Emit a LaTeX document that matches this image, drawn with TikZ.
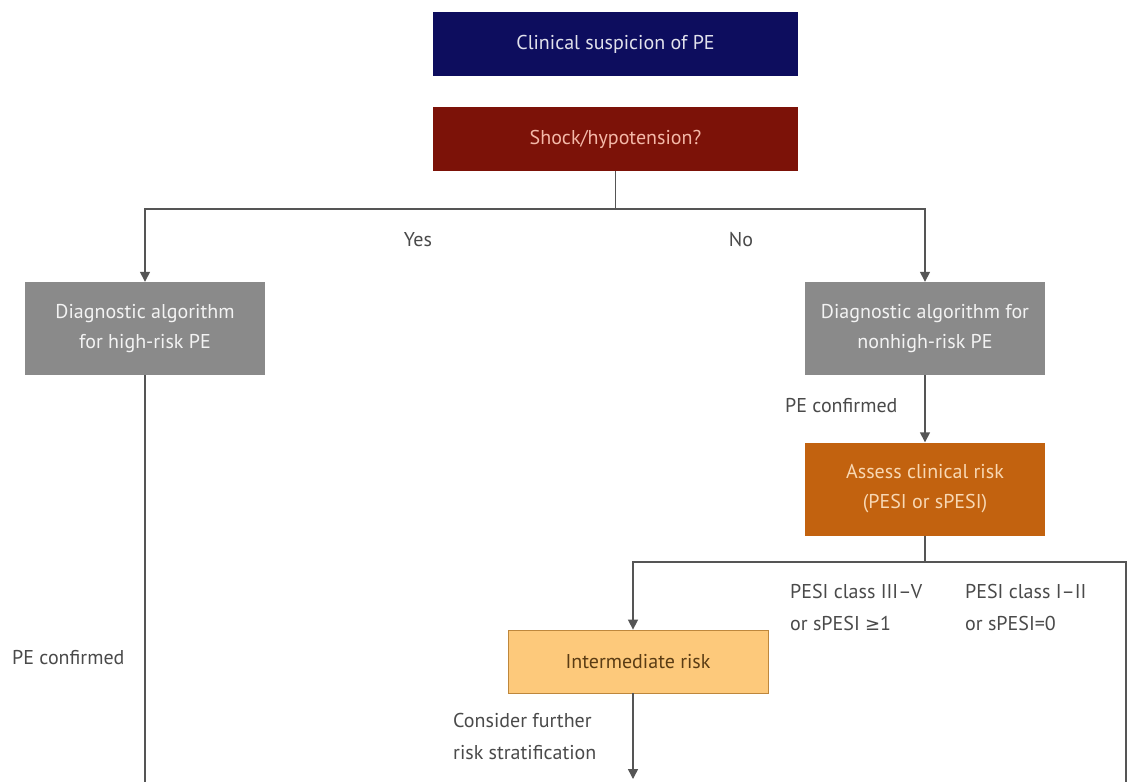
\documentclass[tikz,border=0pt]{standalone}
\usepackage{fontspec}
\setmainfont{PT Sans}
\newfontfamily\symfont{DejaVu Sans}
\usetikzlibrary{arrows.meta}
\definecolor{navy}{HTML}{0D0D5E}
\definecolor{darkred}{HTML}{7C1208}
\definecolor{boxgray}{HTML}{8A8A8A}
\definecolor{rust}{HTML}{C2620F}
\definecolor{lightorange}{HTML}{FDC97B}
\definecolor{linegray}{HTML}{555555}
\definecolor{labelgray}{HTML}{4A4A4A}
\begin{document}
\begin{tikzpicture}[x=1pt,y=-1pt,
  every node/.style={font=\fontsize{20}{30}\selectfont},
  box/.style={minimum width=240pt, minimum height=93pt, inner sep=0pt, align=center},
  widebox/.style={minimum width=365pt, minimum height=64pt, inner sep=0pt, align=center},
  conn/.style={draw=linegray, line width=1.5pt},
  arr/.style={conn, -{Triangle[length=10pt,width=10pt]}},
  lbl/.style={text=labelgray, inner sep=0pt, align=left, font=\fontsize{20}{32}\selectfont}]
\useasboundingbox[fill=white] (0,0) rectangle (1128,782);

% boxes
\node[widebox, fill=navy, text=white!88!navy] (clin) at (615.5,44) {Clinical suspicion of PE};
\node[widebox, fill=darkred, text={rgb,255:red,244;green,184;blue,168}] (shock) at (615.5,139) {Shock/hypotension?};
\node[box, fill=boxgray, text=white!90!boxgray] (high) at (145,328.5) {Diagnostic algorithm\\for high-risk PE};
\node[box, fill=boxgray, text=white!90!boxgray] (nonhigh) at (925,328.5) {Diagnostic algorithm for\\nonhigh-risk PE};
\node[box, fill=rust, text={rgb,255:red,248;green,216;blue,180}] (assess) at (925,489) {Assess clinical risk\\(PESI or sPESI)};
\node[minimum width=260pt, minimum height=63pt, inner sep=0pt, fill=lightorange, draw={rgb,255:red,190;green,135;blue,60}, line width=0.8pt, text={rgb,255:red,90;green,60;blue,20}] (inter) at (638,661.5) {Intermediate risk};

% coordinates
\coordinate (split) at (615.5,209);
\coordinate (split2) at (925,562);
\coordinate (rcorner) at (1126,562);
\coordinate (rbot) at (1126,782);
\coordinate (lbot) at (145,782);
\coordinate (ibot) at (633,779);

% connectors
\draw[conn] (shock.south) -- (split);
\draw[arr] (split) -| (high.north);
\draw[arr] (split) -| (nonhigh.north);
\draw[arr] (nonhigh.south) -- (assess.north);
\draw[conn] (assess.south) -- (split2);
\draw[arr] (split2) -| ([xshift=-5pt]inter.north);
\draw[conn] (split2) -- (rcorner) -- (rbot);
\draw[conn] (high.south) -- (lbot);
\draw[arr] ([xshift=-5pt]inter.south) -- (ibot);

% labels
\node[lbl] (yes) at (418,240) {Yes};
\node[lbl] (no) at (741,240) {No};
\node[lbl, anchor=west] (pec1) at (785,406) {PE confirmed};
\node[lbl, anchor=west] (pec2) at (12,658) {PE confirmed};
\node[lbl, anchor=north west] (pesi1) at (790,584) {PESI class III–V\\or sPESI {\symfont\fontsize{18}{32}\selectfont ≥}1};
\node[lbl, anchor=north west] (pesi2) at (965,584) {PESI class I–II\\or sPESI=0};
\node[lbl, anchor=north west] (further) at (453,713) {Consider further\\risk stratification};
\end{tikzpicture}
\end{document}
